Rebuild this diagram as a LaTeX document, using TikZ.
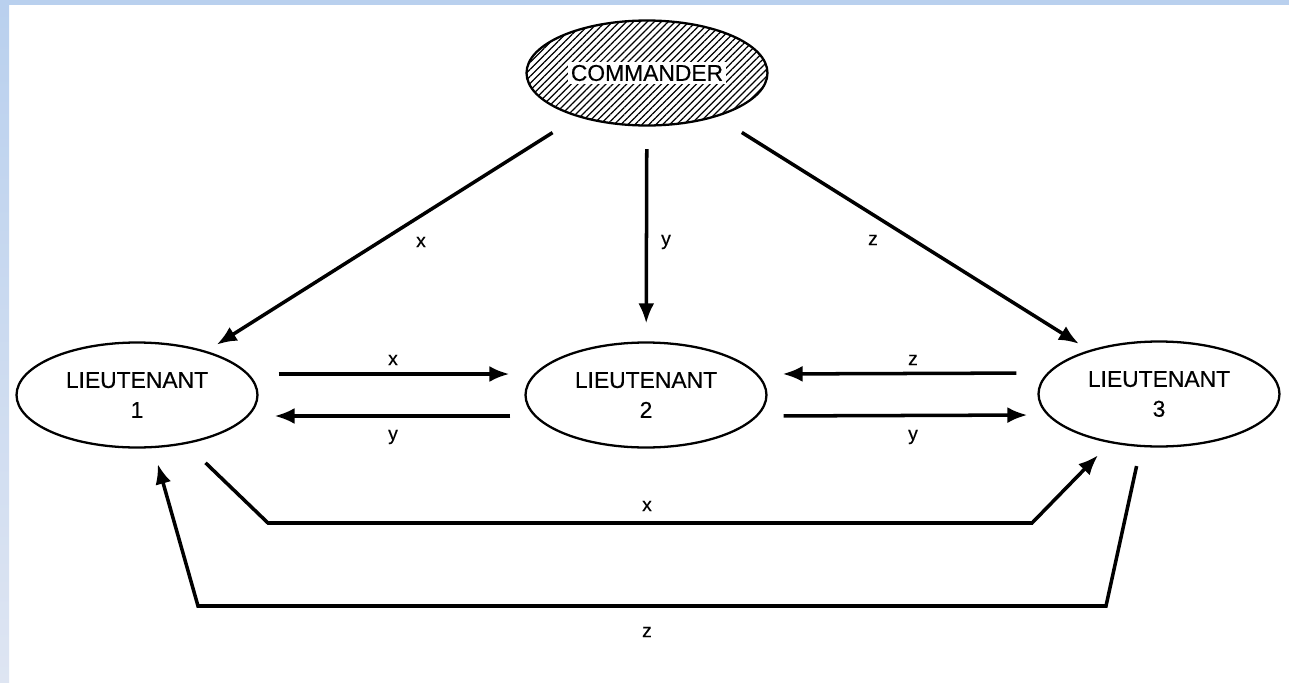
\documentclass[tikz,border=0pt]{standalone}
\usepackage{fontspec}
\setmainfont{Liberation Sans}
\newfontfamily\medfont{Liberation Sans}[FakeBold=0.4]
\usetikzlibrary{arrows.meta,shapes.geometric,patterns.meta}

\definecolor{frameblue}{RGB}{185,208,238}
\definecolor{framepale}{RGB}{222,229,242}

\tikzset{
  officer/.style={ellipse,draw,line width=1.3pt,minimum width=4.82cm,minimum height=2.1cm,inner sep=0pt,align=center,font=\medfont\fontsize{13}{17}\selectfont},
  msg/.style={line width=2pt,-{Latex[length=0.4cm,width=0.32cm]}},
  val/.style={font=\medfont\fontsize{11}{13}\selectfont}
}

\begin{document}
\begin{tikzpicture}[x=0.02cm,y=-0.02cm]
\useasboundingbox (0,0) rectangle (1289,683);
% page frame
\fill[white] (0,0) rectangle (1289,683);
\shade[top color=frameblue,bottom color=framepale] (0,0) rectangle (9,683);
\fill[frameblue] (0,0) rectangle (1289,5);

% the generals
\node[officer,pattern={Lines[angle=45,distance=2.8pt,line width=0.7pt]}] (cmd) at (647,73) {\fboxsep=1.5pt\colorbox{white}{COMMANDER}};
\node[officer] (l1) at (137,395) {LIEUTENANT\\1};
\node[officer] (l2) at (646,395) {LIEUTENANT\\2};
\node[officer] (l3) at (1159,394) {LIEUTENANT\\3};

% bends of the long routes
\coordinate (xa) at (268,523);
\coordinate (xb) at (1032,523);
\coordinate (za) at (1106,606);
\coordinate (zb) at (198,606);

% commander sends orders
\draw[msg,shorten <=0.6cm,shorten >=0.24cm] (cmd) -- (l1);
\draw[msg,shorten <=0.46cm,shorten >=0.36cm] (cmd) -- (l2);
\draw[msg,shorten <=0.6cm,shorten >=0.24cm] (cmd) -- (l3);

% lieutenants relay
\draw[msg,shorten <=0.4cm,shorten >=0.3cm] ([yshift=0.42cm]l1.east) -- ([yshift=0.42cm]l2.west);
\draw[msg,shorten <=0.28cm,shorten >=0.32cm] ([yshift=-0.42cm]l2.west) -- ([yshift=-0.42cm]l1.east);
\draw[msg,shorten <=0.42cm,shorten >=0.3cm] ([yshift=0.42cm]l3.west) -- ([yshift=0.42cm]l2.east);
\draw[msg,shorten <=0.32cm,shorten >=0.2cm] ([yshift=-0.42cm]l2.east) -- ([yshift=-0.42cm]l3.west);
\draw[msg,shorten <=0.54cm,shorten >=0.34cm] (l1.-45) -- (xa) -- (xb) -- (l3.-135);
\draw[msg,shorten <=0.39cm,shorten >=0.33cm] (l3.-109) -- (za) -- (zb) -- (l1.-73);

% values
\node[val] (vx) at (421,242) {x};
\node[val] (vy) at (666,242) {y};
\node[val] (vz) at (873,240) {z};
\node[val] (vx12) at (393,360) {x};
\node[val] (vy21) at (393,437) {y};
\node[val] (vz32) at (913,360) {z};
\node[val] (vy23) at (913,437) {y};
\node[val] (vx13) at (647,506) {x};
\node[val] (vz31) at (647,632) {z};
\end{tikzpicture}
\end{document}
